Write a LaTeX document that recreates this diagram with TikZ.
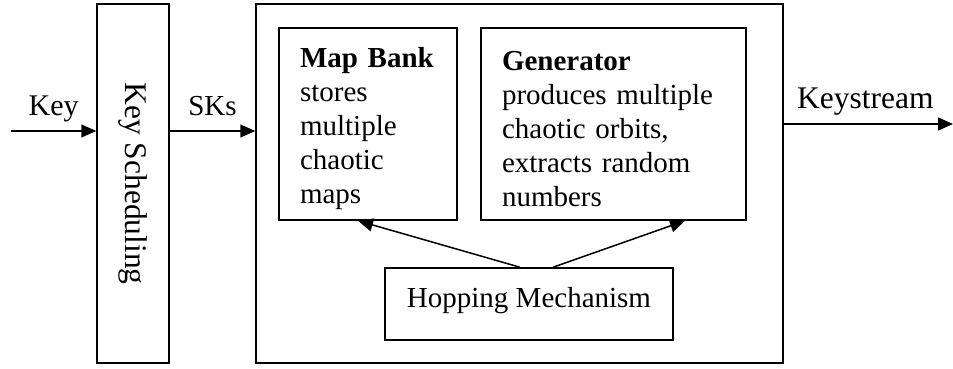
\documentclass[tikz,border=0pt]{standalone}
\usepackage{fontspec}
\setmainfont{Liberation Serif}
\usetikzlibrary{arrows.meta}
\pgfmathsetmacro{\lw}{1.5}
\pgfmathsetmacro{\pad}{21}
\tikzset{
	blk/.style= {
		draw, line width=\lw pt,
		inner sep=0pt
	},
	txtblk/.style= {
		blk, align=left,
		inner xsep=\pad pt,
		text height=30pt,
		minimum height=192pt
	},
	arr/.style= {
		line width=\lw pt,
		-{Triangle[length=15pt,width=13pt]}
	},
	lbl/.style= {
		inner sep=0pt, anchor=base, yshift=16pt
	},
	bigfont/.style={font=\fontsize{31.5}{36}\selectfont}
}

\begin{document}
\begin{tikzpicture}[x=1pt,y=-1pt,font=\fontsize{29}{34}\selectfont]
\useasboundingbox (0,0) rectangle (953,369);

% left part
\node[blk, bigfont, minimum width=72pt, minimum height=359pt] (keysched) at (133,183.5) {\rotatebox{-90}{Key Scheduling}\hspace{16pt}};
\coordinate (keyin) at (11,131);
\draw[arr] (keyin) -- (keyin -| keysched.west) node[lbl, midway, font=\fontsize{30}{34}\selectfont] (keylbl) {Key};

% main block
\node[blk, minimum width=527pt, minimum height=359pt] (bigbox) at (519.5,183.5) {};
\draw[arr] (keysched.east |- keyin) -- (bigbox.west |- keyin) node[lbl, midway] (skslbl) {SKs};

\node[txtblk, text width=136pt] (mapbank) at (368,124) {\textbf{Map Bank}\\stores\\multiple\\chaotic\\maps};
\node[txtblk, text width=223pt] (generator) at (613.5,124) {\textbf{Generator}\\produces multiple\\chaotic orbits,\\extracts random\\numbers};
\node[blk, minimum width=288pt, minimum height=72pt, text depth=14pt] (hopping) at (529,304) {Hopping Mechanism};

\draw[arr] ([xshift=-9pt]hopping.north) -- ([xshift=-10pt]mapbank.south);
\draw[arr] ([xshift=24pt]hopping.north) -- ([xshift=71.5pt]generator.south);

% output
\coordinate (ksout) at (953,124);
\draw[arr] (ksout -| bigbox.east) -- (ksout) node[lbl, bigfont, midway, xshift=-3pt] (kslbl) {Keystream};
\end{tikzpicture}
\end{document}
